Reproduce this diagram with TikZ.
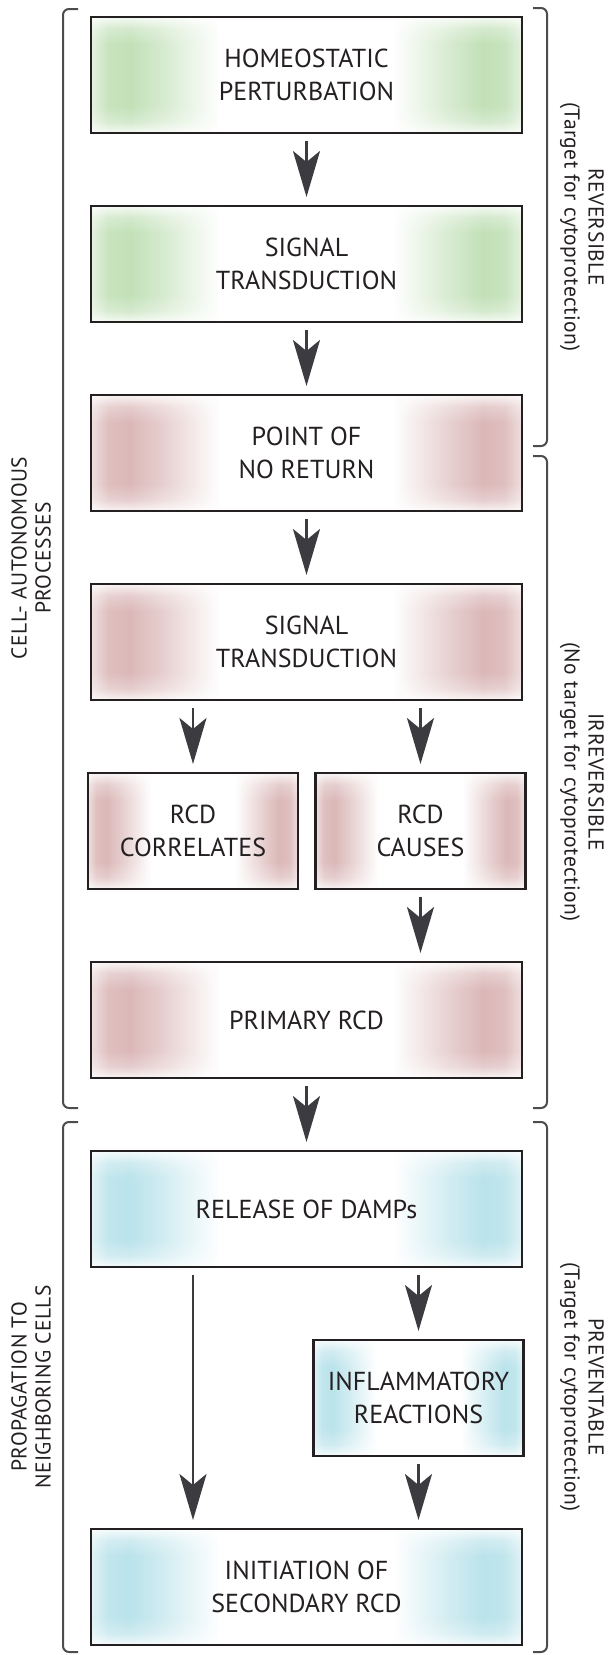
\documentclass[tikz,border=0pt]{standalone}
\usepackage{fontspec}
\setmainfont{PT Sans}
\usepackage{tikz}
\definecolor{d00}{rgb}{0.14, 0.12, 0.13}
\definecolor{d01}{rgb}{0.23, 0.23, 0.25}
\definecolor{d02}{rgb}{0.30, 0.30, 0.31}
\definecolor{d03}{rgb}{0.76, 0.88, 0.72}
\definecolor{d04}{rgb}{0.86, 0.72, 0.72}
\definecolor{d05}{rgb}{0.73, 0.89, 0.92}
\definecolor{d06}{rgb}{1.00, 1.00, 1.00}
\usetikzlibrary{positioning}
\usetikzlibrary{arrows.meta, fadings}
\newcommand{\sidefade}[2]{
    \pgfdeclarehorizontalshading{#1}{100bp}{color(0bp)=(#2!45);
    color(25bp)=(#2!45); color(27bp)=(#2!90); color(29.5bp)=(#2);
    color(33bp)=(#2!70); color(40bp)=(d06); color(60bp)=(d06);
    color(67bp)=(#2!70); color(70.5bp)=(#2); color(73bp)=(#2!90);
    color(75bp)=(#2!45); color(100bp)=(#2!45)}}
\sidefade{greenfade}{d03}
\sidefade{pinkfade}{d04}
\sidefade{bluefade}{d05}
\pgfdeclareverticalshading{edgeshade}{100bp}{color(0bp)=(pgftransparent!15);
    color(25bp)=(pgftransparent!15); color(30bp)=(pgftransparent!70);
    color(37bp)=(pgftransparent!100); color(63bp)=(pgftransparent!100);
    color(70bp)=(pgftransparent!70); color(75bp)=(pgftransparent!15);
    color(100bp)=(pgftransparent!15)}
\pgfdeclarefading{edgefade}{\pgfuseshading{edgeshade}}
\newcommand{\boxfont}{\fontsize{26pt}{33pt}\selectfont}
\newcommand{\sidefont}{\fontsize{21.5pt}{24pt}\selectfont
    \addfontfeature{LetterSpace=2}}
\tikzstyle{Line} = [draw, d01, line width=2.6pt, shorten <=8pt, shorten >=9pt,
    -{Stealth[length=46pt, width=27pt, inset=11pt]}]
\tikzstyle{cbox} = [draw=d00, rectangle, line width=2.6pt, shade,
    minimum width=431pt, minimum height=116pt, outer sep=0pt,
    align=center, text=d00, font=\boxfont,
    postaction={fill=d06, path fading=edgefade},
    postaction={draw=d00, line width=2.6pt}]
\tikzstyle{gbox} = [cbox, shading=greenfade]
\tikzstyle{rbox} = [cbox, shading=pinkfade]
\tikzstyle{bbox} = [cbox, shading=bluefade]
\tikzstyle{half} = [minimum width=210pt]
\tikzstyle{brkt} = [draw=d02, line width=2pt, rounded corners=6pt]
\tikzstyle{sidelbl} = [align=center, text=d00, font=\sidefont, inner sep=0pt]

\begin{document}
\begin{tikzpicture}[x=1pt, y=1pt, node distance=73pt]
     \useasboundingbox (0,0) rectangle (608,-1655);
     % ><>< =================== ><>< %
     % ><><     Place nodes     ><>< %
     % ><>< =================== ><>< %
     \node [gbox] (step00) at (306.5,-75) {HOMEOSTATIC\\PERTURBATION};
     \node [gbox, below=of step00] (step01) {SIGNAL\\TRANSDUCTION};
     \node [rbox, below=of step01] (step02) {POINT OF\\NO RETURN};
     \node [rbox, below=of step02] (step03) {SIGNAL\\TRANSDUCTION};
     \node [rbox, half, below=of step03, xshift=-113.5pt] (step04)
        {RCD\\CORRELATES};
     \node [rbox, half, below=of step03, xshift=114pt] (step05)
        {RCD\\CAUSES};
     \node [rbox, below=of step05, xshift=-114pt] (step06) {PRIMARY RCD};
     \node [bbox, below=of step06] (step07) {RELEASE OF DAMPs};
     \node [bbox, half, below=of step07, xshift=112pt] (step08)
        {INFLAMMATORY\\REACTIONS};
     \node [bbox, below=of step08, xshift=-112pt] (step09)
        {INITIATION OF\\SECONDARY RCD};
     % ><>< =================== ><>< %
     % ><><    Side brackets    ><>< %
     % ><>< =================== ><>< %
     \draw [brkt] (78,-9) -- (63,-9) -- (63,-1108) -- (78,-1108);
     \draw [brkt] (78,-1122) -- (63,-1122) -- (63,-1652) -- (78,-1652);
     \draw [brkt] (533,-8) -- (547,-8) -- (547,-446) -- (533,-446);
     \draw [brkt] (533,-456) -- (547,-456) -- (547,-1108) -- (533,-1108);
     \draw [brkt] (533,-1122) -- (547,-1122) -- (547,-1652) -- (533,-1652);
     \node [sidelbl, rotate=90] (lbl00) at (31,-558)
        {CELL- AUTONOMOUS\\PROCESSES};
     \node [sidelbl, rotate=90] (lbl01) at (31,-1387)
        {PROPAGATION TO\\NEIGHBORING CELLS};
     \node [sidelbl, rotate=-90] (lbl02) at (582,-227)
        {REVERSIBLE\\(Target for cytoprotection)};
     \node [sidelbl, rotate=-90] (lbl03) at (582,-782)
        {IRREVERSIBLE\\(No target for cytoprotection)};
     \node [sidelbl, rotate=-90] (lbl04) at (582,-1387)
        {PREVENTABLE\\(Target for cytoprotection)};
     % ><>< =================== ><>< %
     % ><><     Draw lines.     ><>< %
     % ><>< =================== ><>< %
     \path [Line] (step00) -- (step01);
     \path [Line] (step01) -- (step02);
     \path [Line] (step02) -- (step03);
     \path [Line] (step03.south -| step04) -- (step04);
     \path [Line] (step03.south -| step05) -- (step05);
     \path [Line] (step05) -- (step05 |- step06.north);
     \path [Line] (step06) -- (step07);
     \path [Line] (step07.south -| step04) -- (step09.north -| step04);
     \path [Line] (step07.south -| step08) -- (step08);
     \path [Line] (step08) -- (step08 |- step09.north);
  \end{tikzpicture}
\end{document}
